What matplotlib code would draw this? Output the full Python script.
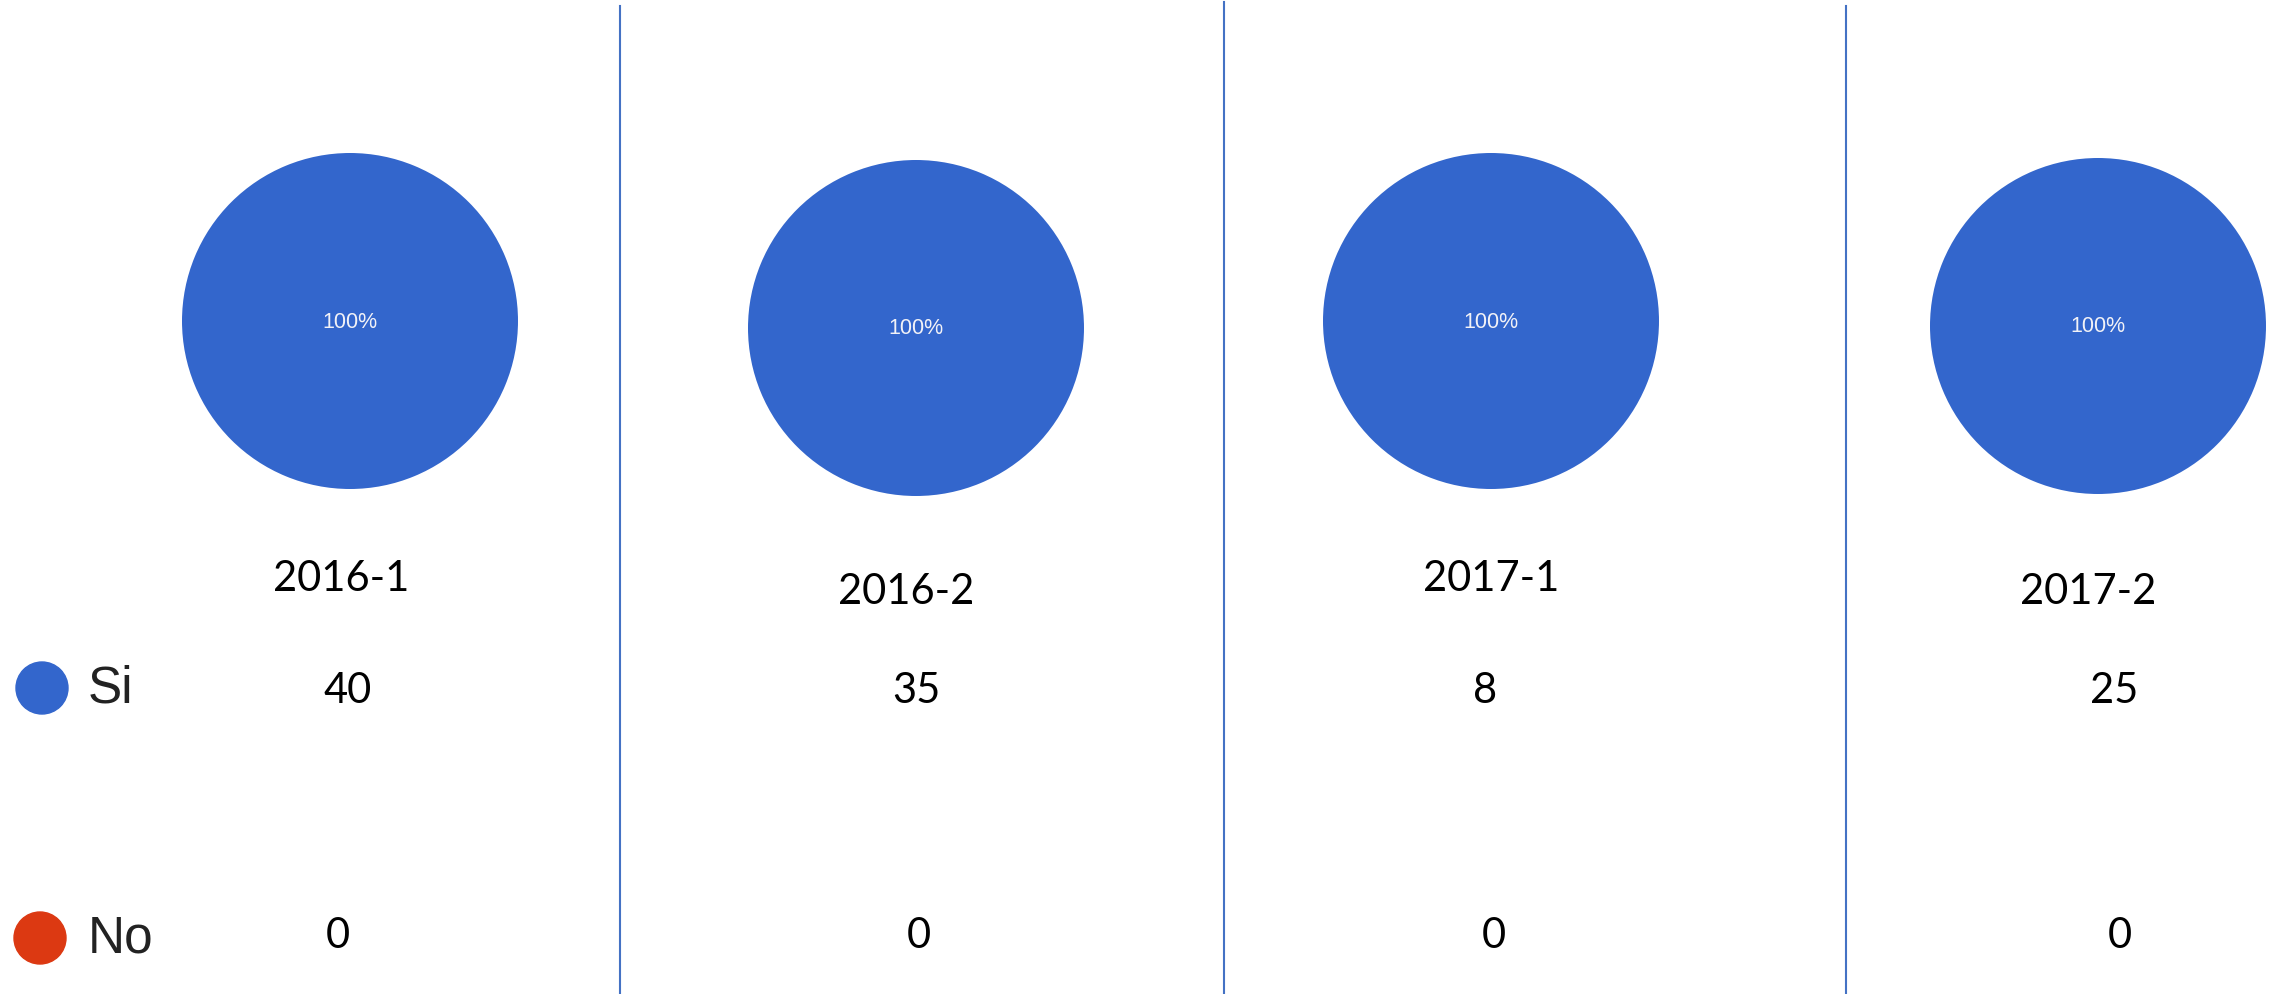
import matplotlib.pyplot as plt
from matplotlib.patches import Circle

# Datos
periodos = ['2016-1', '2016-2', '2017-1', '2017-2']
si = [40, 35, 8, 25]
no = [0, 0, 0, 0]
categorias = ['Si', 'No']
colores = ['#3366CC', '#DC3912']

W, H = 2274, 995
fig = plt.figure(figsize=(W / 100, H / 100), dpi=100)
fig.patch.set_facecolor('white')

# Ejes de fondo en pixeles
bg = fig.add_axes([0, 0, 1, 1])
bg.set_xlim(0, W)
bg.set_ylim(H, 0)
bg.axis('off')

# Posiciones de cada columna (centro de la torta)
centros = [(350, 322), (916, 329), (1491, 322), (2098, 327)]
radio = 168
y_titulo = [579, 592, 579, 592]
x_titulo = [341, 906, 1491, 2088]
x_si = [348, 916, 1485, 2114]
x_no = [338, 919, 1494, 2120]


def etiqueta(pct):
    return '%d%%' % round(pct) if pct > 0 else ''


for i, periodo in enumerate(periodos):
    cx, cy = centros[i]
    ax = fig.add_axes([(cx - radio) / W, 1 - (cy + radio) / H, 2 * radio / W, 2 * radio / H])
    ax.pie([si[i], no[i]], colors=colores, startangle=90, counterclock=False,
           autopct=etiqueta, pctdistance=0, radius=1,
           textprops={'color': '#f2f2f7', 'fontsize': 15.5, 'family': 'Liberation Sans'})
    ax.set_xlim(-1, 1)
    ax.set_ylim(-1, 1)
    ax.axis('off')

    bg.text(x_titulo[i], y_titulo[i], periodo, ha='center', va='center',
            fontsize=30, family='Lato', color='black')
    bg.text(x_si[i], 691, str(si[i]), ha='center', va='center',
            fontsize=30, family='Lato', color='black')
    bg.text(x_no[i], 936, str(no[i]), ha='center', va='center',
            fontsize=30, family='Lato', color='black')

# Lineas divisorias
for x, y0 in [(620, 7), (1224, 3), (1846, 7)]:
    bg.plot([x, x], [y0, H], color='#4472C4', linewidth=1.5)

# Leyenda
for (yc, xc), nombre, color in zip([(689, 42), (939, 40)], categorias, colores):
    bg.add_patch(Circle((xc, yc), 26, color=color))
    bg.text(88, yc, nombre, ha='left', va='center', fontsize=37,
            family='Liberation Sans', color='#222222')

fig.savefig('out.png', dpi=100)
